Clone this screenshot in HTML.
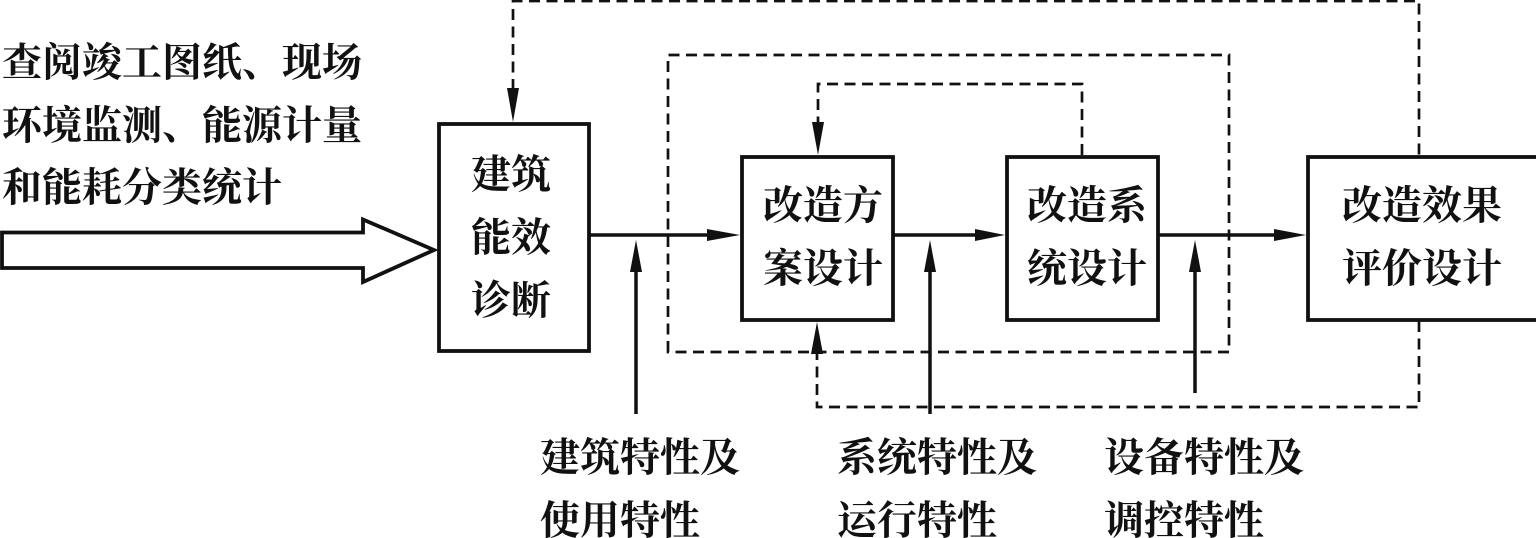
<!DOCTYPE html>
<html><head><meta charset="utf-8">
<style>html,body{margin:0;padding:0;background:#fff}svg{display:block}
text{font-family:"Liberation Serif","Noto Serif CJK SC",serif;font-size:40px;font-weight:700;fill:#111}</style></head>
<body>
<svg width="1536" height="538" viewBox="0 0 1536 538" xmlns="http://www.w3.org/2000/svg">
<g fill="none" stroke="#111" stroke-width="3.500">
<g stroke-dasharray="11 6.500" stroke-width="2.700">
<path d="M513 90V1H1419V155"/>
<path d="M1419 321V407H817V335"/>
<path d="M668 352V55H1229V352Z"/>
<path d="M1082 155V84H818V125"/>
</g>
<rect x="439" y="124" width="150" height="227" stroke-width="3.800"/>
<rect x="742" y="157" width="151" height="163" stroke-width="3.800"/>
<rect x="1007" y="157" width="151" height="163" stroke-width="3.800"/>
<rect x="1308" y="157" width="230" height="163" stroke-width="3.800"/>
<path d="M590 235H712M894 235H978M1159 235H1278"/>
<path d="M636 414V268M930 414V268M1195 393V268"/>
<path d="M2 232.500H363V219.500L434 250L363 282V268H2Z" stroke-width="3.800" fill="#fff"/>
</g>
<g fill="#111">
<path d="M740 235L707 229V241Z"/><path d="M1005 235L975 229V241Z"/><path d="M1306 235L1274 229V241Z"/>
<path d="M636 240L630 272H642Z"/><path d="M930 240L924 272H936Z"/><path d="M1195 240L1189 272H1201Z"/>
<path d="M513 122L507 88H519Z"/><path d="M818 155L812 122H824Z"/><path d="M817 322L811 354H823Z"/>
</g>
<text x="2" y="76">查阅竣工图纸、现场</text>
<text x="2" y="139">环境监测、能源计量</text>
<text x="2" y="201">和能耗分类统计</text>
<text x="471" y="188">建筑</text><text x="471" y="251">能效</text><text x="471" y="314">诊断</text>
<text x="763" y="219">改造方</text><text x="763" y="282">案设计</text>
<text x="1027" y="219">改造系</text><text x="1027" y="282">统设计</text>
<text x="1342" y="219">改造效果</text><text x="1342" y="282">评价设计</text>
<text x="540" y="471">建筑特性及</text><text x="540" y="534">使用特性</text>
<text x="837" y="471">系统特性及</text><text x="837" y="534">运行特性</text>
<text x="1104" y="471">设备特性及</text><text x="1104" y="534">调控特性</text>
</svg>
</body></html>
